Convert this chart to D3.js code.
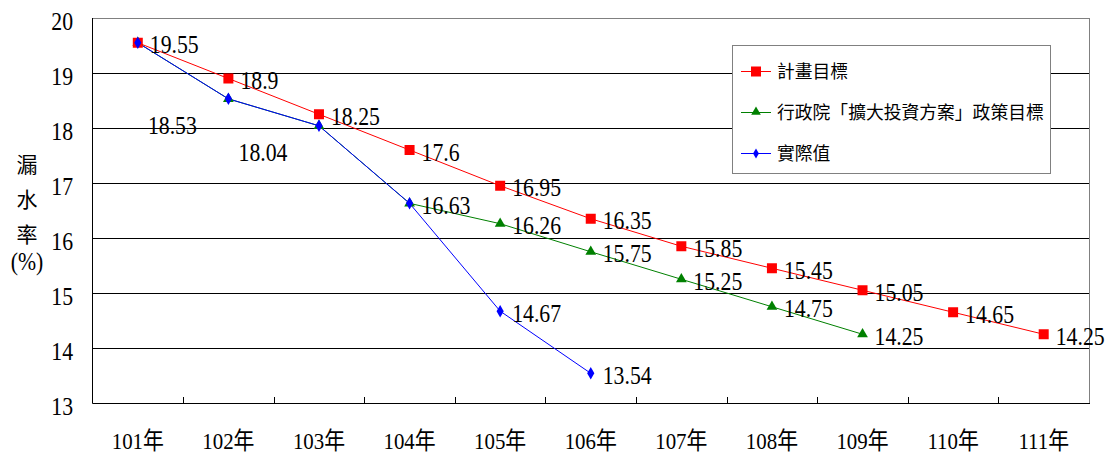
<!DOCTYPE html>
<html><head><meta charset="utf-8">
<script src="https://cdn.jsdelivr.net/npm/d3@7"></script>
</head>
<body style="margin:0;background:#fff">
<svg id="c" width="1113" height="457" style="display:block"></svg>
<script>
const categories = ["101年","102年","103年","104年","105年","106年","107年","108年","109年","110年","111年"];
const planValues = [19.55,18.9,18.25,17.6,16.95,16.35,15.85,15.45,15.05,14.65,14.25];
const execValues = [19.55,18.53,18.04,16.63,16.26,15.75,15.25,14.75,14.25,null,null];
const actualValues = [19.55,18.53,18.04,16.63,14.67,13.54,null,null,null,null,null];
const yTicks = [13,14,15,16,17,18,19,20];
const seriesNames = ["計畫目標","行政院「擴大投資方案」政策目標","實際值"];

const svg = d3.select("#c");
const L=92.5, R=1089, T=18, B=403;
const x = d3.scaleBand().domain(categories).range([L,R]);
const y = d3.scaleLinear().domain([13,20]).range([B,T]);
const cx = c => x(c) + x.bandwidth()/2;
const SERIF = '"Liberation Serif", "Noto Sans CJK TC"';
const SANS = '"Noto Sans CJK TC", "Liberation Sans"';
const SX = 0.87;

function stext(sel, fx, fy, anchor, size){
  return sel.attr("transform",(d,i)=>`translate(${fx(d,i)},${fy(d,i)}) scale(${SX},1)`)
    .attr("x",0).attr("y",0).attr("text-anchor",anchor)
    .style("font-family",SERIF).attr("font-size",size).attr("fill","#000");
}

const g = svg.append("g");
g.selectAll("line.grid").data(yTicks.filter(v=>v>13)).join("line")
  .attr("x1",L).attr("x2",R).attr("y1",d=>Math.round(y(d))+0.5).attr("y2",d=>Math.round(y(d))+0.5)
  .attr("stroke",d=>d===20?"#808080":"#000").attr("stroke-width",1);
g.append("line").attr("x1",R+0.5).attr("x2",R+0.5).attr("y1",T).attr("y2",B).attr("stroke","#808080");
stext(g.selectAll("text.yt").data(yTicks).join("text"), ()=>73, d=>y(d)+11.5, "end", 25).text(d=>d);
g.append("line").attr("x1",L).attr("x2",L).attr("y1",T).attr("y2",B+0.5).attr("stroke","#000");
g.append("line").attr("x1",L).attr("x2",R+1).attr("y1",B+0.5).attr("y2",B+0.5).attr("stroke","#000");
g.selectAll("line.xt").data(categories.slice(1)).join("line")
  .attr("x1",d=>Math.round(x(d))+0.5).attr("x2",d=>Math.round(x(d))+0.5)
  .attr("y1",B-6).attr("y2",B).attr("stroke","#000");
stext(g.selectAll("text.xl").data(categories).join("text"), d=>cx(d), ()=>449, "middle", 24).text(d=>d);

const yt = ["漏","水","率"];
svg.selectAll("text.ytt").data(yt).join("text")
  .attr("x",27).attr("y",(d,i)=>172+i*35).attr("text-anchor","middle")
  .style("font-family",SANS).attr("font-size",21).attr("fill","#000").text(d=>d);
stext(svg.append("text").datum("(%)"), ()=>27, ()=>270, "middle", 25).text("(%)");

function series(vals,color){
  const pts = categories.map((c,i)=>({c,v:vals[i]})).filter(d=>d.v!=null);
  svg.append("path").datum(pts)
    .attr("d",d3.line().x(d=>cx(d.c)).y(d=>y(d.v)))
    .attr("fill","none").attr("stroke",color).attr("stroke-width",1);
  return pts;
}
const redPts = series(planValues,"#FF0000");
const greenPts = series(execValues,"#008000");
const bluePts = series(actualValues,"#0000FF");

svg.selectAll("path.tri").data(greenPts).join("path")
  .attr("d",d3.symbol(d3.symbolTriangle,50))
  .attr("transform",d=>`translate(${cx(d.c)},${y(d.v)})`).attr("fill","#008000");
svg.selectAll("rect.sq").data(redPts).join("rect")
  .attr("x",d=>cx(d.c)-5).attr("y",d=>y(d.v)-5).attr("width",10).attr("height",10).attr("fill","#FF0000");
svg.selectAll("path.dia").data(bluePts).join("path")
  .attr("d",d3.symbol(d3.symbolDiamond,45))
  .attr("transform",d=>`translate(${cx(d.c)},${y(d.v)})`).attr("fill","#0000FF");

function labels(pts, dx, dy, anchor){
  stext(svg.selectAll(null).data(pts).join("text"), d=>cx(d.c)+dx, d=>y(d.v)+dy, anchor, 25).text(d=>d.v);
}
labels(redPts, 12, 10.5, "start");
labels(greenPts.filter(d=>d.c>="105年"), 12, 10.5, "start");
labels(bluePts.filter(d=>d.c==="104年"||d.c==="105年"||d.c==="106年"), 12, 10.5, "start");
labels(bluePts.filter(d=>d.c==="102年"||d.c==="103年"), -56, 35.5, "middle");

const lg = svg.append("g");
lg.append("rect").attr("x",732.5).attr("y",45.5).attr("width",318).attr("height",128)
  .attr("fill","#fff").attr("stroke","#808080");
const legColors = ["#FF0000","#008000","#0000FF"];
const legY = [71,112,153];
seriesNames.forEach((n,i)=>{
  lg.append("line").attr("x1",741).attr("x2",771).attr("y1",legY[i]+0.5).attr("y2",legY[i]+0.5).attr("stroke",legColors[i]);
  if(i===0) lg.append("rect").attr("x",751).attr("y",legY[i]-4.5).attr("width",10).attr("height",10).attr("fill",legColors[i]);
  if(i===1) lg.append("path").attr("d",d3.symbol(d3.symbolTriangle,40)).attr("transform",`translate(756,${legY[i]})`).attr("fill",legColors[i]);
  if(i===2) lg.append("path").attr("d",d3.symbol(d3.symbolDiamond,30)).attr("transform",`translate(756,${legY[i]+0.5})`).attr("fill",legColors[i]);
  lg.append("text").attr("x",777).attr("y",legY[i]+6.5)
    .style("font-family",SANS).attr("font-size",17.8).attr("fill","#000").text(n);
});
</script>
</body></html>
